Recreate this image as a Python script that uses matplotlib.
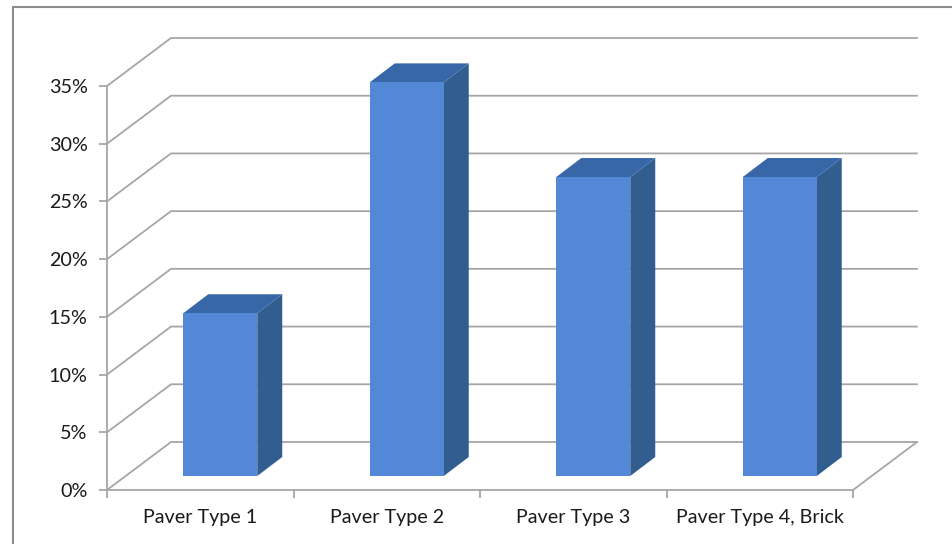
import matplotlib
matplotlib.use('Agg')
import matplotlib.pyplot as plt
from matplotlib.patches import Polygon, Rectangle
from matplotlib.lines import Line2D

plt.rcParams['font.family'] = ['Lato', 'DejaVu Sans']

categories = ['Paver Type 1', 'Paver Type 2', 'Paver Type 3', 'Paver Type 4, Brick']
values = [14.1, 34.1, 25.9, 25.9]
y_ticks = [0, 5, 10, 15, 20, 25, 30, 35]

W, H = 952, 544
grid_color = '#a6a6a6'
front_color = '#5288d6'
top_color = '#3867a8'
side_color = '#325d8f'
text_color = '#1a1a1a'

fig = plt.figure(figsize=(W / 100, H / 100), dpi=100)
fig.patch.set_facecolor('white')

# axes box is the front plane of the 3D look
ax = fig.add_axes([107 / W, 1 - 490 / H, (853 - 107) / W, (490 - 86) / H])
ax.set_xlim(0, 4)
ax.set_ylim(0, 35)
ax.patch.set_visible(False)

# depth of the floor and of the bars, in axis units
px_x = 4 / (853 - 107)
px_y = 35 / (490 - 86)
depth_x = 64 * px_x
depth_y = 48 * px_y
bar_dx = 25 * px_x
bar_dy = 19 * px_y
gap_x = 20 * px_x
bar_w = 74 * px_x
floor_y = 14 * px_y

# gridlines run along the side wall and then the back wall
for t in y_ticks:
    ax.plot([0, depth_x, 4 + depth_x], [t, t + depth_y, t + depth_y],
            color=grid_color, lw=1.3, clip_on=False, zorder=1, solid_joinstyle='miter')
ax.plot([4, 4 + depth_x], [0, depth_y], color=grid_color, lw=1.3, clip_on=False, zorder=1)

for i, v in enumerate(values):
    x0 = i + 0.5 - bar_w / 2 + gap_x
    x1 = x0 + bar_w
    y0 = floor_y
    y1 = y0 + v
    ax.add_patch(Polygon([(x1, y0), (x1 + bar_dx, y0 + bar_dy), (x1 + bar_dx, y1 + bar_dy), (x1, y1)],
                         fc=side_color, ec='none', clip_on=False, zorder=3))
    ax.add_patch(Polygon([(x0, y1), (x0 + bar_dx, y1 + bar_dy), (x1 + bar_dx, y1 + bar_dy), (x1, y1)],
                         fc=top_color, ec='none', clip_on=False, zorder=3))
    ax.add_patch(Rectangle((x0, y0), bar_w, v, fc=front_color, ec='none', clip_on=False, zorder=4))

for s in ['top', 'right']:
    ax.spines[s].set_visible(False)
for s in ['left', 'bottom']:
    ax.spines[s].set_color(grid_color)
    ax.spines[s].set_linewidth(1.3)

ax.set_yticks(y_ticks)
ax.set_yticklabels([f'{t}%' for t in y_ticks], fontsize=14.2, color=text_color)
ax.set_xticks(range(5))
ax.set_xticklabels([])
ax.set_xticks([i + 0.5 for i in range(4)], minor=True)
ax.set_xticklabels(categories, minor=True, fontsize=14.2, color=text_color)
ax.tick_params(axis='both', which='major', color=grid_color, width=1.3, length=6)
ax.tick_params(axis='y', pad=8)
ax.tick_params(axis='x', which='minor', length=0, pad=14)

# outer chart frame, only its left and top edges fall inside the figure
frame_x = 13 / W
frame_y = 1 - 7 / H
fig.add_artist(Line2D([frame_x, frame_x, 1], [0, frame_y, frame_y],
                      transform=fig.transFigure, color='#8c8c8c', lw=1.5,
                      solid_joinstyle='miter'))

fig.savefig('out.png', dpi=100)
